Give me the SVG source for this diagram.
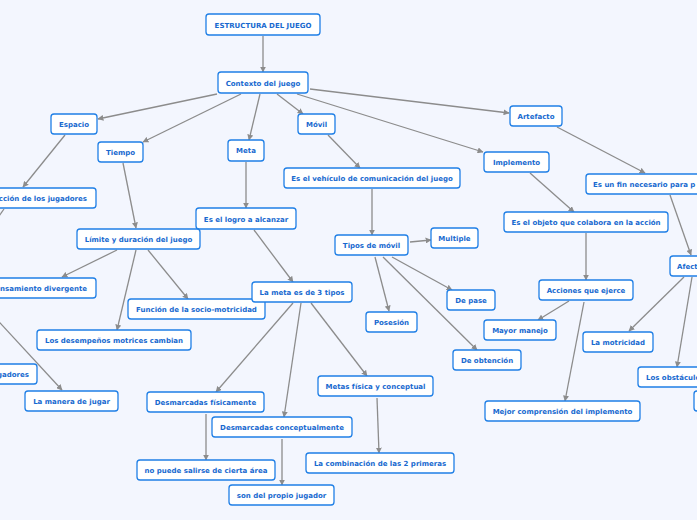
<svg xmlns="http://www.w3.org/2000/svg" width="697" height="520" viewBox="0 0 697 520">
<style>
.n rect{fill:#ffffff;stroke:#1f7fe6;stroke-width:1.3}
.n .sh{fill:none;stroke:#8fc0f4;stroke-width:1.3}
.n text{font-family:"DejaVu Sans",Verdana,sans-serif;font-weight:bold;font-size:7px;fill:#1769cf;text-anchor:middle}
.c line{stroke:#8c8c8c;stroke-width:1.3;fill:none}
</style>
<defs>
<marker id="ah" viewBox="0 0 10 10" refX="9" refY="5" markerWidth="6" markerHeight="6" markerUnits="userSpaceOnUse" orient="auto">
<path d="M0,0L10,5L0,10z" fill="#8c8c8c"/>
</marker>
</defs>
<rect width="697" height="520" fill="#f3f6fe"/>
<g class="c">
<line x1="263" y1="36" x2="263" y2="72" marker-end="url(#ah)"/>
<line x1="217" y1="94" x2="98" y2="119" marker-end="url(#ah)"/>
<line x1="241" y1="94" x2="143" y2="142" marker-end="url(#ah)"/>
<line x1="260" y1="94" x2="249" y2="140" marker-end="url(#ah)"/>
<line x1="277" y1="94" x2="303" y2="114" marker-end="url(#ah)"/>
<line x1="297" y1="94" x2="483" y2="152" marker-end="url(#ah)"/>
<line x1="310" y1="89" x2="509" y2="113" marker-end="url(#ah)"/>
<line x1="65" y1="135" x2="23" y2="187" marker-end="url(#ah)"/>
<line x1="123" y1="163" x2="136" y2="228" marker-end="url(#ah)"/>
<line x1="246" y1="162" x2="246" y2="208" marker-end="url(#ah)"/>
<line x1="328" y1="135" x2="360" y2="168" marker-end="url(#ah)"/>
<line x1="372" y1="189" x2="372" y2="235" marker-end="url(#ah)"/>
<line x1="410" y1="242" x2="431" y2="240" marker-end="url(#ah)"/>
<line x1="557" y1="127" x2="645" y2="173" marker-end="url(#ah)"/>
<line x1="530" y1="173" x2="574" y2="212" marker-end="url(#ah)"/>
<line x1="670" y1="195" x2="691" y2="255" marker-end="url(#ah)"/>
<line x1="586" y1="233" x2="586" y2="280" marker-end="url(#ah)"/>
<line x1="569" y1="301" x2="538" y2="320" marker-end="url(#ah)"/>
<line x1="584" y1="302" x2="565" y2="401" marker-end="url(#ah)"/>
<line x1="684" y1="277" x2="629" y2="331" marker-end="url(#ah)"/>
<line x1="692" y1="277" x2="677" y2="367" marker-end="url(#ah)"/>
<line x1="392" y1="257" x2="452" y2="290" marker-end="url(#ah)"/>
<line x1="375" y1="257" x2="389" y2="311" marker-end="url(#ah)"/>
<line x1="383" y1="257" x2="477" y2="350" marker-end="url(#ah)"/>
<line x1="254" y1="230" x2="293" y2="282" marker-end="url(#ah)"/>
<line x1="117" y1="250" x2="62" y2="277" marker-end="url(#ah)"/>
<line x1="136" y1="250" x2="117" y2="330" marker-end="url(#ah)"/>
<line x1="148" y1="250" x2="188" y2="299" marker-end="url(#ah)"/>
<line x1="4" y1="209" x2="-8" y2="226"/>
<line x1="-23" y1="298" x2="62" y2="390" marker-end="url(#ah)"/>
<line x1="293" y1="303" x2="216" y2="392" marker-end="url(#ah)"/>
<line x1="301" y1="303" x2="284" y2="417" marker-end="url(#ah)"/>
<line x1="311" y1="303" x2="367" y2="376" marker-end="url(#ah)"/>
<line x1="206" y1="414" x2="206" y2="460" marker-end="url(#ah)"/>
<line x1="282" y1="439" x2="282" y2="485" marker-end="url(#ah)"/>
<line x1="377" y1="398" x2="379" y2="453" marker-end="url(#ah)"/>
</g>
<g id="n-estructura" class="n"><rect x="206" y="14" width="114" height="21" rx="3"/><text x="263" y="27.5">ESTRUCTURA DEL JUEGO</text></g>
<g id="n-contexto" class="n"><rect x="218" y="72" width="90" height="21" rx="3"/><text x="263" y="85.5">Contexto del juego</text></g>
<g id="n-espacio" class="n"><rect x="51" y="114" width="46" height="20" rx="3"/><text x="74" y="126.5">Espacio</text></g>
<g id="n-tiempo" class="n"><rect x="98" y="142" width="45" height="20" rx="3"/><text x="120.5" y="154.5">Tiempo</text></g>
<g id="n-meta" class="n"><rect x="228" y="140" width="36" height="21" rx="3"/><text x="246" y="153">Meta</text></g>
<g id="n-movil" class="n"><rect x="298" y="114" width="37" height="20" rx="3"/><text x="316.5" y="126.5">Móvil</text></g>
<g id="n-artefacto" class="n"><rect x="510" y="106" width="52" height="20" rx="3"/><text x="536" y="118.5">Artefacto</text></g>
<g id="n-implemento" class="n"><rect x="484" y="152" width="65" height="20" rx="3"/><text x="516.5" y="164.5">Implemento</text></g>
<g id="n-vehiculo" class="n"><rect x="284" y="168" width="176" height="20" rx="3"/><text x="372" y="180.5">Es el vehículo de comunicación del juego</text></g>
<g id="n-fin" class="n"><rect x="586" y="174" width="160" height="20" rx="3"/><text x="593" y="186.5" style="text-anchor:start">Es un fin necesario para p</text></g>
<g id="n-objeto" class="n"><rect x="504" y="212" width="164" height="20" rx="3"/><text x="586" y="224.5">Es el objeto que colabora en la acción</text></g>
<g id="n-tipos" class="n"><rect x="335" y="235" width="73" height="20" rx="3"/><text x="371.5" y="247.5">Tipos de móvil</text></g>
<g id="n-multiple" class="n"><rect x="431" y="228" width="47" height="20" rx="3"/><text x="454.5" y="240.5">Multiple</text></g>
<g id="n-afecta" class="n"><rect x="670" y="256" width="60" height="20" rx="3"/><text x="677" y="268.5" style="text-anchor:start">Afecta</text></g>
<g id="n-logro" class="n"><rect x="196" y="208" width="100" height="21" rx="3"/><text x="246" y="221.5">Es el logro a alcanzar</text></g>
<g id="n-limite" class="n"><rect x="77" y="229" width="123" height="20" rx="3"/><text x="138.5" y="241.5">Límite y duración del juego</text></g>
<g id="n-interaccion" class="n"><rect x="-40" y="188" width="136" height="20" rx="3"/><text x="87" y="200.5" style="text-anchor:end">Interacción de los jugadores</text></g>
<g id="n-pensamiento" class="n"><rect x="-40" y="278" width="136" height="20" rx="3"/><text x="87" y="290.5" style="text-anchor:end">Pensamiento divergente</text></g>
<g id="n-funcion" class="n"><rect x="128" y="299" width="137" height="20" rx="3"/><text x="196.5" y="311.5">Función de la socio-motricidad</text></g>
<g id="n-desempenos" class="n"><rect x="37" y="330" width="154" height="20" rx="3"/><text x="114" y="342.5">Los desempeños motrices cambian</text></g>
<g id="n-lameta" class="n"><rect x="252" y="282" width="100" height="20" rx="3"/><text x="302" y="294.5">La meta es de 3 tipos</text></g>
<g id="n-jugadores" class="n"><rect x="-60" y="364" width="97" height="20" rx="3"/><text x="29" y="376.5" style="text-anchor:end">Los jugadores</text></g>
<g id="n-manera" class="n"><rect x="25" y="391" width="93" height="20" rx="3"/><text x="71.5" y="403.5">La manera de jugar</text></g>
<g id="n-desfis" class="n"><rect x="147" y="392" width="117" height="20" rx="3"/><text x="205.5" y="404.5">Desmarcadas físicamente</text></g>
<g id="n-descon" class="n"><rect x="212" y="417" width="140" height="20" rx="3"/><text x="282" y="429.5">Desmarcadas conceptualmente</text></g>
<g id="n-nopuede" class="n"><rect x="137" y="460" width="138" height="20" rx="3"/><text x="206" y="472.5">no puede salirse de cierta área</text></g>
<g id="n-son" class="n"><rect x="229" y="485" width="105" height="20" rx="3"/><text x="281.5" y="497.5">son del propio jugador</text></g>
<g id="n-metas" class="n"><rect x="318" y="376" width="115" height="20" rx="3"/><text x="375.5" y="388.5">Metas física y conceptual</text></g>
<g id="n-combinacion" class="n"><rect x="306" y="453" width="148" height="20" rx="3"/><text x="380" y="465.5">La combinación de las 2 primeras</text></g>
<g id="n-mejor" class="n"><rect x="485" y="401" width="155" height="20" rx="3"/><text x="562.5" y="413.5">Mejor comprensión del implemento</text></g>
<g id="n-acciones" class="n"><rect x="539" y="280" width="94" height="20" rx="3"/><text x="586" y="292.5">Acciones que ejerce</text></g>
<g id="n-mayor" class="n"><rect x="484" y="320" width="72" height="20" rx="3"/><text x="520" y="332.5">Mayor manejo</text></g>
<g id="n-motricidad" class="n"><rect x="583" y="332" width="70" height="20" rx="3"/><text x="618" y="344.5">La motricidad</text></g>
<g id="n-obstaculos" class="n"><rect x="638" y="367" width="90" height="20" rx="3"/><text x="646" y="379.5" style="text-anchor:start">Los obstáculos</text></g>
<g id="n-extra" class="n"><rect x="694" y="391" width="60" height="20" rx="3"/></g>
<g id="n-depase" class="n"><rect x="447" y="290" width="48" height="20" rx="3"/><text x="471" y="302.5">De pase</text></g>
<g id="n-posesion" class="n"><rect x="366" y="312" width="51" height="20" rx="3"/><text x="391.5" y="324.5">Posesión</text></g>
<g id="n-obtencion" class="n"><rect x="453" y="350" width="68" height="20" rx="3"/><text x="487" y="362.5">De obtención</text></g>
</svg>
